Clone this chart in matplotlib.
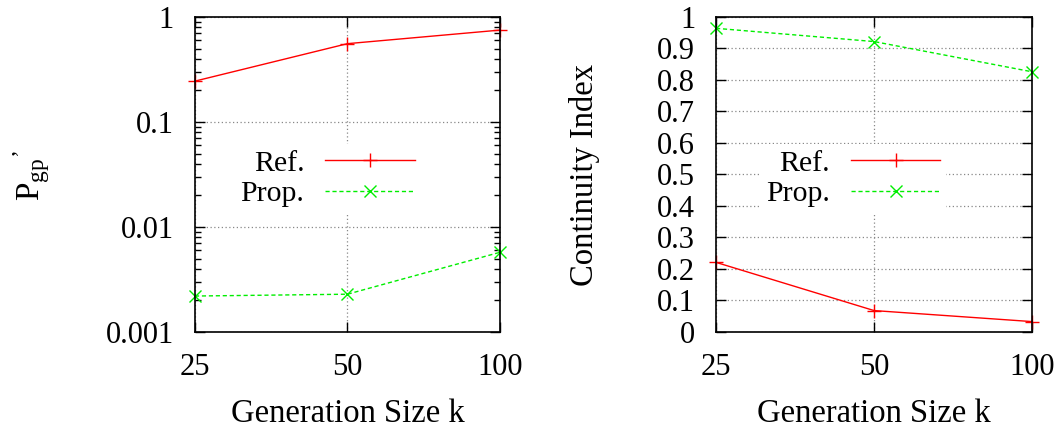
import matplotlib
matplotlib.use("Agg")
import matplotlib.pyplot as plt

plt.rcParams['font.family'] = ['Liberation Serif', 'DejaVu Serif']
plt.rcParams['mathtext.fontset'] = 'custom'
plt.rcParams['mathtext.rm'] = 'Liberation Serif'
plt.rcParams['mathtext.it'] = 'Liberation Serif:italic'
plt.rcParams['font.size'] = 22

# data
sizes = [25, 50, 100]
pgp_ref = [0.245, 0.557, 0.75]
pgp_prop = [0.0022, 0.00229, 0.00574]
ci_ref = [0.221, 0.068, 0.033]
ci_prop = [0.964, 0.922, 0.826]
ci_ticks = [0, 0.1, 0.2, 0.3, 0.4, 0.5, 0.6, 0.7, 0.8, 0.9, 1]
ci_ticklabels = ['0', '0.1', '0.2', '0.3', '0.4', '0.5', '0.6', '0.7', '0.8', '0.9', '1']
pgp_ticks = [0.001, 0.01, 0.1, 1]
pgp_ticklabels = ['0.001', '0.01', '0.1', '1']

red = '#ff0000'
green = '#00ee00'

fig = plt.figure(figsize=(10.63, 4.32), dpi=100)
ax1 = fig.add_axes([0.1834, 0.2315, 0.2869, 0.7292])
ax2 = fig.add_axes([0.6736, 0.2315, 0.2973, 0.7292])


def style(ax):
    ax.set_xscale('log')
    ax.set_xlim(25, 100)
    ax.set_xticks(sizes)
    ax.set_xticklabels([str(s) for s in sizes])
    ax.xaxis.set_minor_locator(matplotlib.ticker.NullLocator())
    ax.tick_params(which='both', direction='in', top=True, right=True)
    ax.tick_params(which='major', length=7, width=1)
    ax.tick_params(which='minor', length=4, width=1)
    ax.tick_params(axis='y', pad=15)
    ax.tick_params(axis='x', pad=15)
    ax.grid(True, which='major', color='#888888', linestyle=(0, (1, 2)), linewidth=0.9)
    for s in ax.spines.values():
        s.set_linewidth(1.2)
    ax.set_xlabel('Generation Size k', fontsize=23.5)
    ax.xaxis.set_label_coords(0.5, -0.21)


def draw(ax, ref, prop):
    ax.plot(sizes, ref, color=red, lw=1, marker='+', ms=10, mew=1, clip_on=False, label='Ref.')
    ax.plot(sizes, prop, color=green, lw=1, ls=(0, (3, 2)), marker='x', ms=9, mew=1,
            clip_on=False, label='Prop.')


draw(ax1, pgp_ref, pgp_prop)
style(ax1)
ax1.set_yscale('log')
ax1.set_ylim(0.001, 1)
ax1.set_yticks(pgp_ticks)
ax1.set_yticklabels(pgp_ticklabels)
ax1.set_ylabel("$\\mathrm{P}_{\\mathrm{gp}}{}^{\\mathrm{\u2019}}$", fontsize=24)
ax1.yaxis.set_label_coords(-0.469, 0.495)

draw(ax2, ci_ref, ci_prop)
style(ax2)
ax2.set_ylim(0, 1)
ax2.set_yticks(ci_ticks)
ax2.set_yticklabels(ci_ticklabels)
ax2.set_ylabel('Continuity Index', fontsize=23.5)
ax2.yaxis.set_label_coords(-0.367, 0.498)

for ax, anchor in [(ax1, (0.79, 0.645)), (ax2, (0.776, 0.645))]:
    leg = ax.legend(loc='upper right', bbox_to_anchor=anchor, markerfirst=False,
                    handlelength=3.0, handletextpad=0.7, numpoints=1, fontsize=21.5,
                    frameon=True, fancybox=False, framealpha=1, borderpad=0.2,
                    labelspacing=0.12)
    leg.get_frame().set_edgecolor('none')
    for t in leg.get_texts():
        t.set_ha('right')

fig.savefig('out.png', dpi=100)
